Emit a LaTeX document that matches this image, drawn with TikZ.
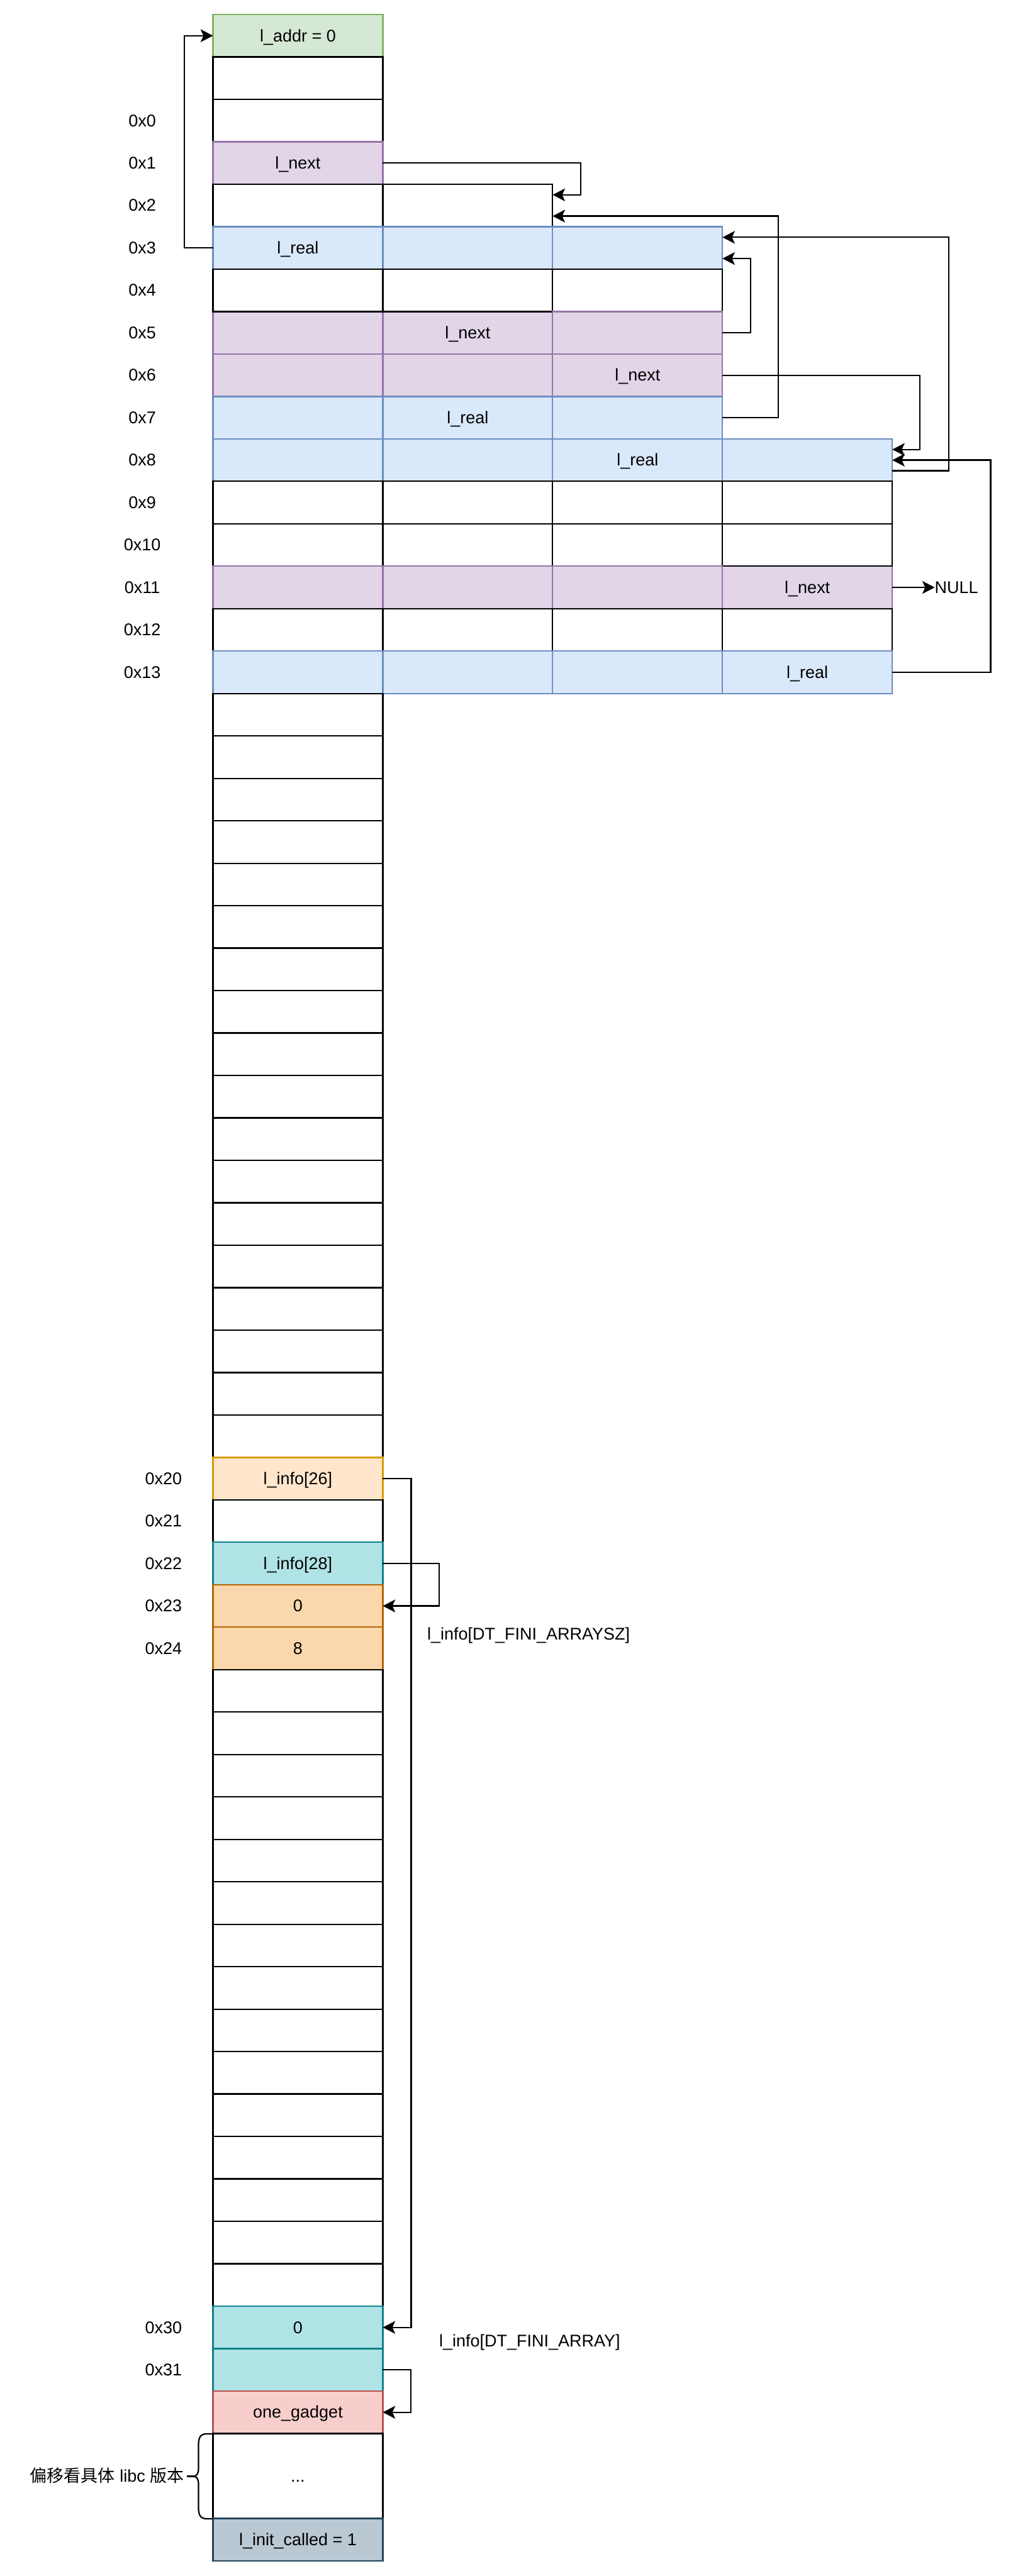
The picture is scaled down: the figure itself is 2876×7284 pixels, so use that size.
\documentclass[tikz,border=0pt]{standalone}
\usepackage{fontspec}
\setmainfont{Liberation Sans}
\newfontfamily\cjk{Noto Sans CJK SC}
\usetikzlibrary{arrows.meta,calc}
\definecolor{gF}{HTML}{D5E8D4}\definecolor{gS}{HTML}{82B366}
\definecolor{pF}{HTML}{E1D5E7}\definecolor{pS}{HTML}{9673A6}
\definecolor{bF}{HTML}{DAE8FC}\definecolor{bS}{HTML}{6C8EBF}
\definecolor{oF}{HTML}{FFE6CC}\definecolor{oS}{HTML}{D79B00}
\definecolor{tF}{HTML}{B0E3E6}\definecolor{tS}{HTML}{0E8088}
\definecolor{rF}{HTML}{FAD7AC}\definecolor{rS}{HTML}{B46504}
\definecolor{sF}{HTML}{F8CECC}\definecolor{sS}{HTML}{B85450}
\definecolor{nF}{HTML}{BAC8D3}\definecolor{nS}{HTML}{23445D}
\newcommand\mcell[4]{\node[#3] (c#1-#2) at ({602+480*(#2-1)},{41+120*(#1)}) {#4};}
\newcommand\rlab[3]{\node[txt] (a#1) at (#2,{101+120*(#1)}) {#3};}
\begin{document}
\begin{tikzpicture}[x=1pt,y=-1pt,line width=4pt,font=\fontsize{48pt}{58pt}\selectfont,
  cellbox/.style={rectangle,draw,minimum width=480pt,minimum height=120pt,inner sep=0pt,outer sep=0pt,anchor=north west,text height=43pt,text depth=10pt},
  wcell/.style={cellbox,draw=black,fill=white},
  gcell/.style={cellbox,draw=gS,fill=gF},
  pcell/.style={cellbox,draw=pS,fill=pF},
  bcell/.style={cellbox,draw=bS,fill=bF},
  ocell/.style={cellbox,draw=oS,fill=oF},
  tcell/.style={cellbox,draw=tS,fill=tF},
  rcell/.style={cellbox,draw=rS,fill=rF},
  scell/.style={cellbox,draw=sS,fill=sF},
  ncell/.style={cellbox,draw=nS,fill=nF},
  txt/.style={inner sep=0pt,outer sep=0pt,text height=43pt,text depth=10pt},
  conn/.style={draw=black,line width=4pt,-{Stealth[length=35pt,width=36pt,inset=8pt]}}]
\useasboundingbox (0,0) rectangle (2876,7284);
% rows
\mcell{0}{1}{gcell}{l\_addr = 0}
\mcell{1}{1}{wcell}{}
\mcell{2}{1}{wcell}{}
\mcell{3}{1}{pcell}{l\_next}
\mcell{4}{1}{wcell}{}\mcell{4}{2}{wcell}{}
\mcell{5}{1}{bcell}{l\_real}\mcell{5}{2}{bcell}{}\mcell{5}{3}{bcell}{}
\mcell{7}{1}{pcell}{}\mcell{7}{2}{pcell}{l\_next}
\mcell{6}{1}{wcell}{}\mcell{6}{2}{wcell}{}\mcell{6}{3}{wcell}{}
\mcell{7}{3}{pcell}{}
\mcell{8}{1}{pcell}{}\mcell{8}{2}{pcell}{}\mcell{8}{3}{pcell}{l\_next}
\mcell{9}{1}{bcell}{}\mcell{9}{2}{bcell}{l\_real}\mcell{9}{3}{bcell}{}
\mcell{10}{1}{bcell}{}\mcell{10}{2}{bcell}{}\mcell{10}{3}{bcell}{l\_real}\mcell{10}{4}{bcell}{}
\mcell{11}{1}{wcell}{}\mcell{11}{2}{wcell}{}\mcell{11}{3}{wcell}{}\mcell{11}{4}{wcell}{}
\mcell{13}{4}{pcell}{l\_next}
\mcell{12}{1}{wcell}{}\mcell{12}{2}{wcell}{}\mcell{12}{3}{wcell}{}\mcell{12}{4}{wcell}{}
\mcell{13}{1}{pcell}{}\mcell{13}{2}{pcell}{}\mcell{13}{3}{pcell}{}
\mcell{14}{1}{wcell}{}\mcell{14}{2}{wcell}{}\mcell{14}{3}{wcell}{}\mcell{14}{4}{wcell}{}
\mcell{15}{1}{bcell}{}\mcell{15}{2}{bcell}{}\mcell{15}{3}{bcell}{}\mcell{15}{4}{bcell}{l\_real}
\foreach \r in {16,...,33} {\mcell{\r}{1}{wcell}{}}
\mcell{34}{1}{ocell}{l\_info[26]}
\mcell{35}{1}{wcell}{}
\mcell{36}{1}{tcell}{l\_info[28]}
\mcell{37}{1}{rcell}{0}
\mcell{38}{1}{rcell}{8}
\foreach \r in {39,...,53} {\mcell{\r}{1}{wcell}{}}
\mcell{54}{1}{tcell}{0}
\mcell{55}{1}{tcell}{}
\mcell{56}{1}{scell}{one\_gadget}
\node[wcell,minimum height=240pt] (c57-1) at (602,{41+120*57}) {...};
\mcell{59}{1}{ncell}{l\_init\_called = 1}
% row labels
\rlab{2}{402}{0x0}\rlab{3}{402}{0x1}\rlab{4}{402}{0x2}\rlab{5}{402}{0x3}
\rlab{6}{402}{0x4}\rlab{7}{402}{0x5}\rlab{8}{402}{0x6}\rlab{9}{402}{0x7}
\rlab{10}{402}{0x8}\rlab{11}{402}{0x9}\rlab{12}{402}{0x10}\rlab{13}{402}{0x11}
\rlab{14}{402}{0x12}\rlab{15}{402}{0x13}
\rlab{34}{462}{0x20}\rlab{35}{462}{0x21}\rlab{36}{462}{0x22}\rlab{37}{462}{0x23}
\rlab{38}{462}{0x24}\rlab{54}{462}{0x30}\rlab{55}{462}{0x31}
% free texts
\node[txt,anchor=west] (null) at (2642,1661) {NULL};
\node[txt] (szlab) at (1494,4620) {l\_info[DT\_FINI\_ARRAYSZ]};
\node[txt] (arlab) at (1497,6620) {l\_info[DT\_FINI\_ARRAY]};
\node[txt,anchor=east] (offlab) at (520,7002) {{\cjk 偏移看具体} libc {\cjk 版本}};
% brace
\draw[line join=round] (601,6882) -- (585,6882) .. controls (566,6882) and (561,6892) .. (561,6915) -- (561,6980) .. controls (561,6995) and (556,7002) .. (546,7002) .. controls (556,7002) and (561,7009) .. (561,7024) -- (561,7089) .. controls (561,7112) and (566,7122) .. (585,7122) -- (601,7122);
\draw (546,7002) -- (528,7002);
% anchor points
\coordinate (t4a) at ($(c4-2.north east)!0.25!(c4-2.south east)$);
\coordinate (t4b) at ($(c4-2.north east)!0.75!(c4-2.south east)$);
\coordinate (t5a) at ($(c5-3.north east)!0.25!(c5-3.south east)$);
\coordinate (t5b) at ($(c5-3.north east)!0.75!(c5-3.south east)$);
\coordinate (t10a) at ($(c10-4.north east)!0.25!(c10-4.south east)$);
\coordinate (s10b) at ($(c10-4.north east)!0.75!(c10-4.south east)$);
% connectors
\draw[conn] (c5-1.west) -- ++(-81,0) |- (c0-1.west);
\draw[conn] (c3-1.east) -- ++(559,0) |- (t4a);
\draw[conn] (c9-3.east) -- ++(158,0) |- (t4b);
\draw[conn] (s10b) -- ++(160,0) |- (t5a);
\draw[conn] (c7-3.east) -- ++(79,0) |- (t5b);
\draw[conn] (c8-3.east) -- ++(558,0) |- (t10a);
\draw[conn] (c15-4.east) -- ++(278,0) |- (c10-4.east);
\draw[conn] (c13-4.east) -- (null.west);
\draw[conn] (c34-1.east) -- ++(80,0) |- (c54-1.east);
\draw[conn] (c36-1.east) -- ++(159,0) |- (c37-1.east);
\draw[conn] (c55-1.east) -- ++(79,0) |- (c56-1.east);
\end{tikzpicture}
\end{document}
